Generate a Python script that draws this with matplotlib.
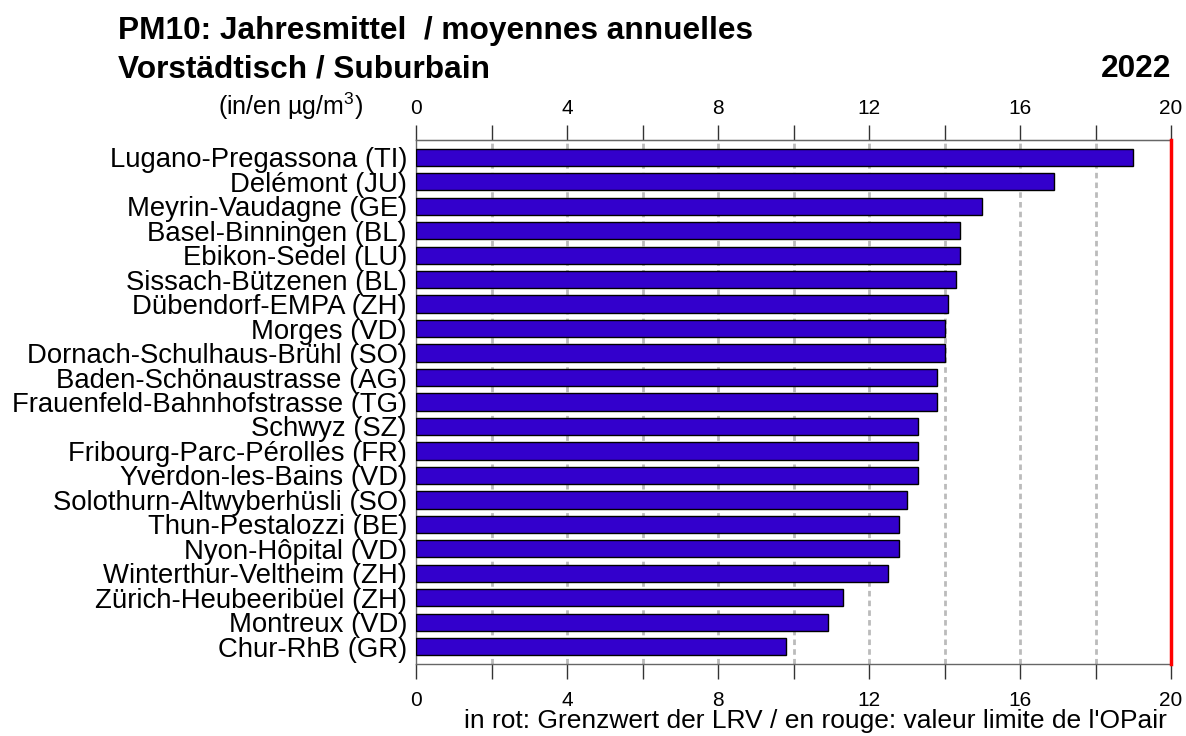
import matplotlib
matplotlib.use('Agg')
import matplotlib.pyplot as plt
import numpy as np

plt.rcParams['font.family'] = ['Liberation Sans', 'DejaVu Sans']
plt.rcParams['mathtext.fontset'] = 'custom'
plt.rcParams['mathtext.rm'] = 'Liberation Sans'
plt.rcParams['mathtext.it'] = 'Liberation Sans'

# Stations and annual PM10 means (µg/m3)
stations = [
    "Lugano-Pregassona (TI)", "Delémont (JU)", "Meyrin-Vaudagne (GE)",
    "Basel-Binningen (BL)", "Ebikon-Sedel (LU)", "Sissach-Bützenen (BL)",
    "Dübendorf-EMPA (ZH)", "Morges (VD)", "Dornach-Schulhaus-Brühl (SO)",
    "Baden-Schönaustrasse (AG)", "Frauenfeld-Bahnhofstrasse (TG)", "Schwyz (SZ)",
    "Fribourg-Parc-Pérolles (FR)", "Yverdon-les-Bains (VD)",
    "Solothurn-Altwyberhüsli (SO)", "Thun-Pestalozzi (BE)", "Nyon-Hôpital (VD)",
    "Winterthur-Veltheim (ZH)", "Zürich-Heubeeribüel (ZH)", "Montreux (VD)",
    "Chur-RhB (GR)",
]
values = [19.0, 16.9, 15.0, 14.4, 14.4, 14.3, 14.1, 14.0, 14.0, 13.8, 13.8,
          13.3, 13.3, 13.3, 13.0, 12.8, 12.8, 12.5, 11.3, 10.9, 9.8]
limit_value = 20
x_ticks = [0, 4, 8, 12, 16, 20]
minor_ticks = [2, 6, 10, 14, 18]

fig = plt.figure(figsize=(11.86, 7.36), dpi=100)
ax = fig.add_axes([0.3508, 0.0978, 0.9874 - 0.3508, 0.8098 - 0.0978])

y = np.arange(len(stations))
ax.barh(y, values, height=0.7, color='#3300CC', edgecolor='black',
        linewidth=1, zorder=3)
ax.axvline(limit_value, color='#FF0000', linewidth=2.5, zorder=4, clip_on=False)

# dashed grid every 2 units
for g in minor_ticks + x_ticks[1:-1]:
    ax.axvline(g, color='#BBBBBB', linewidth=2, linestyle=(0, (2, 1.5)), zorder=1)

ax.set_xlim(0, 20)
ax.set_ylim(len(stations) - 0.3, -0.7)
ax.set_yticks(y)
ax.set_yticklabels(stations, fontsize=19.8)
ax.tick_params(axis='y', length=0, pad=6.5)

# bottom axis
ax.set_xticks(x_ticks)
ax.set_xticks(minor_ticks, minor=True)
ax.tick_params(axis='x', which='both', top=False, bottom=True,
               direction='out', length=10.5, width=1,
               color='#333333', labelsize=15, pad=9)

# top axis (labels sit closer to the ticks than at the bottom)
top = ax.secondary_xaxis('top')
top.set_xticks(x_ticks)
top.set_xticks(minor_ticks, minor=True)
top.tick_params(axis='x', which='both', direction='out', length=10.5, width=1,
                color='#333333', labelsize=15, pad=5)
top.spines['top'].set_color('#666666')

for side in ['top', 'bottom', 'left']:
    ax.spines[side].set_color('#666666')
    ax.spines[side].set_linewidth(1)
ax.spines['right'].set_visible(False)

fig.text(0.0995, 0.958, "PM10: Jahresmittel  / moyennes annuelles",
         fontsize=22.8, fontweight='bold', va='center')
fig.text(0.0995, 0.906, "Vorstädtisch / Suburbain",
         fontsize=22.8, fontweight='bold', va='center')
fig.text(0.9874, 0.906, "2022", fontsize=22.8, fontweight='bold',
         va='center', ha='right')
fig.text(0.306, 0.855, "(in/en µg/m$^3$)", fontsize=18, va='center', ha='right')
fig.text(0.6876, 0.0204, "in rot: Grenzwert der LRV / en rouge: valeur limite de l'OPair",
         fontsize=19, va='center', ha='center')

fig.savefig('out.png', dpi=100)
